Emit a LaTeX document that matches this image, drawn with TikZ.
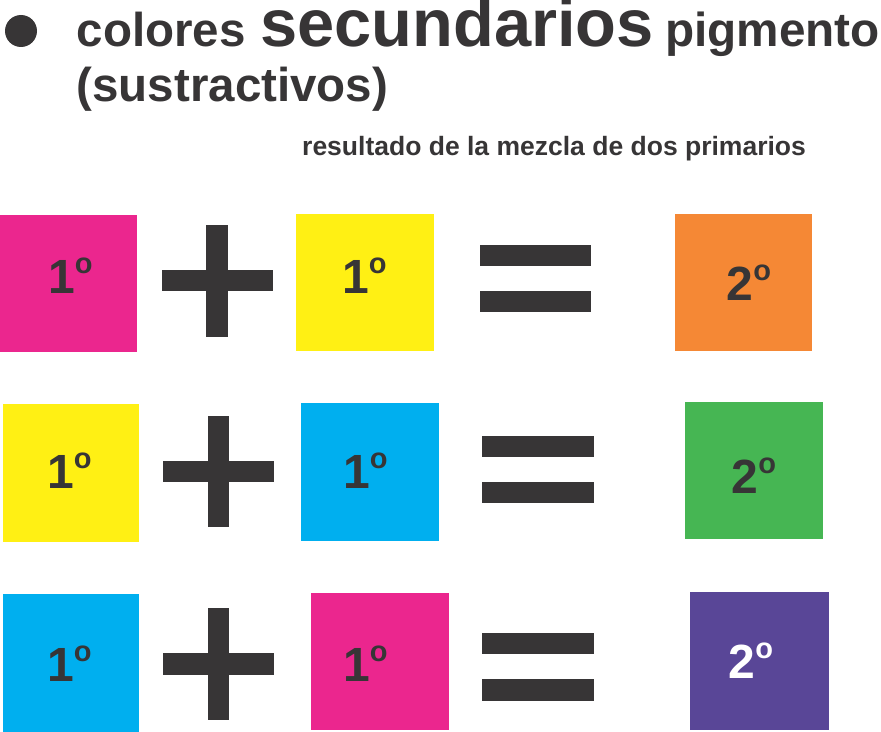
\documentclass[tikz,border=0pt]{standalone}
\usepackage{fontspec}
\setmainfont{Liberation Sans}
\definecolor{ink}{HTML}{373536}
\definecolor{pmag}{HTML}{EB268E}
\definecolor{pyel}{HTML}{FFF014}
\definecolor{pcya}{HTML}{00AFEF}
\definecolor{porg}{HTML}{F58835}
\definecolor{pgrn}{HTML}{46B653}
\definecolor{ppur}{HTML}{594697}
\newcommand\myord{\raisebox{19.5bp}{\fontsize{29bp}{29bp}\selectfont o}}
\tikzset{
  sq/.style={fill=#1, draw=none},
  ttl/.style={anchor=base west, inner sep=0pt, text=ink, font=\bfseries\fontsize{#1}{#1}\selectfont},
  lbl/.style={anchor=base west, inner sep=0pt, text=ink, font=\bfseries\fontsize{48bp}{48bp}\selectfont},
  sym/.style={fill=ink, draw=none}
}
\begin{document}
\begin{tikzpicture}[x=1bp, y=-1bp]
\useasboundingbox (0,0) rectangle (881,732);
% title
\fill[ink] (21,31) circle (16);
\node[ttl=47.5bp] (t1a) at (76.5,47) {colores};
\node[ttl=66.8bp] (t1b) at (260,47) {secundarios};
\node[ttl=47.7bp] (t1c) at (665,47) {pigmento};
\node[ttl=47.5bp] (t2) at (76.5,102) {(sustractivos)};
\node[ttl=26.5bp] (t3) at (302,156) {resultado de la mezcla de dos primarios};
% row 1
\path[sq=pmag] (0,215) rectangle (137,352);
\path[sq=pyel] (296,214) rectangle (434,351);
\path[sq=porg] (675,214) rectangle (812,351);
\path[sym] (162,270) rectangle (273,291);
\path[sym] (206,225) rectangle (228,337);
\path[sym] (480,245) rectangle (591,266);
\path[sym] (480,291) rectangle (591,312);
\node[lbl] (a1) at (48,293) {1\myord};
\node[lbl] (b1) at (342,293) {1\myord};
\node[lbl] (c1) at (726.5,300) {2\myord};
% row 2
\path[sq=pyel] (3,404) rectangle (139,542);
\path[sq=pcya] (301,403) rectangle (439,541);
\path[sq=pgrn] (685,402) rectangle (823,539);
\path[sym] (163,461) rectangle (274,482);
\path[sym] (208,416) rectangle (229,527);
\path[sym] (482,436) rectangle (594,457);
\path[sym] (482,482) rectangle (594,503);
\node[lbl] (a2) at (47,488) {1\myord};
\node[lbl] (b2) at (343,488) {1\myord};
\node[lbl] (c2) at (731.5,493) {2\myord};
% row 3
\path[sq=pcya] (3,594) rectangle (139,732);
\path[sq=pmag] (311,593) rectangle (449,730);
\path[sq=ppur] (690,592) rectangle (829,730);
\path[sym] (163,653) rectangle (274,675);
\path[sym] (208,608) rectangle (229,720);
\path[sym] (482,633) rectangle (594,654);
\path[sym] (482,679) rectangle (594,701);
\node[lbl] (a3) at (47,681) {1\myord};
\node[lbl] (b3) at (343,681) {1\myord};
\node[lbl, text=white] (c3) at (728.5,678) {2\myord};
\end{tikzpicture}
\end{document}
